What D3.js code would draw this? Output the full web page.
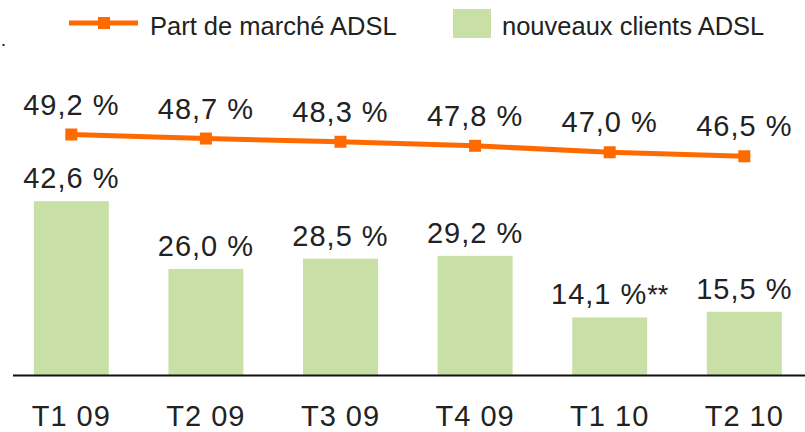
<!DOCTYPE html>
<html>
<head>
<meta charset="utf-8">
<script src="https://cdn.jsdelivr.net/npm/d3@7"></script>
<style>
  body { margin: 0; background: #fff; }
  text { font-family: "Liberation Sans", Arial, sans-serif; fill: #222; }
</style>
</head>
<body>
<div id="chart"></div>
<script>
// data
var categories = ["T1 09", "T2 09", "T3 09", "T4 09", "T1 10", "T2 10"];
var marketShare = [49.2, 48.7, 48.3, 47.8, 47.0, 46.5];   // Part de marché ADSL
var newClients = [42.6, 26.0, 28.5, 29.2, 14.1, 15.5];    // nouveaux clients ADSL
var clientNotes = ["", "", "", "", "**", ""];
var legendLabels = ["Part de marché ADSL", "nouveaux clients ADSL"];

var w = 805, h = 432;
var orange = "#ff6a00", green = "#c8e0a5";

var fmt = v => v.toFixed(1).replace(".", ",") + " %";

var svg = d3.select("#chart")
    .append("svg")
    .attr("width", w)
    .attr("height", h);

// scales
var x = d3.scaleBand()
    .domain(categories)
    .range([4, 811.6])
    .paddingInner(0.443)
    .paddingOuter(0.2215);

var yBar = d3.scaleLinear()
    .domain([0, 45])
    .range([375, 375 - 45 * 4.08]);

var yLine = d3.scaleLinear()
    .domain([44, 50])
    .range([134.5 + 5.2 * 8.07, 134.5 - 0.8 * 8.07]);

// bars
svg.selectAll(".bar")
    .data(newClients)
    .enter()
    .append("rect")
    .attr("class", "bar")
    .attr("x", (d, i) => x(categories[i]))
    .attr("y", d => yBar(d))
    .attr("width", x.bandwidth())
    .attr("height", d => yBar(0) - yBar(d))
    .attr("fill", green);

// bar labels
var barLabels = svg.selectAll(".barlabel")
    .data(newClients)
    .enter()
    .append("text")
    .attr("class", "barlabel")
    .attr("x", (d, i) => x(categories[i]) + x.bandwidth() / 2)
    .attr("y", d => yBar(d) - 13)
    .attr("text-anchor", "middle")
    .style("font-size", "29px")
    .style("letter-spacing", "1px");
barLabels.append("tspan").text(d => fmt(d));
barLabels.append("tspan")
    .style("font-size", "27px")
    .style("letter-spacing", "0px")
    .text((d, i) => clientNotes[i]);

// x axis
var xAxis = svg.append("g")
    .attr("transform", "translate(0,375.5)")
    .call(d3.axisBottom(x).tickSize(0).tickPadding(30));
xAxis.select(".domain").remove();
xAxis.selectAll("text")
    .style("font-size", "29px")
    .style("letter-spacing", "1px")
    .attr("fill", "#222")
    .attr("font-family", null);

svg.append("line")
    .attr("x1", 13).attr("x2", 805)
    .attr("y1", 375.5).attr("y2", 375.5)
    .attr("stroke", "#111")
    .attr("stroke-width", 2);

// market share line
var line = d3.line()
    .x((d, i) => x(categories[i]) + x.bandwidth() / 2)
    .y(d => yLine(d));

svg.append("path")
    .datum(marketShare)
    .attr("fill", "none")
    .attr("stroke", orange)
    .attr("stroke-width", 5)
    .attr("d", line);

svg.selectAll(".marker")
    .data(marketShare)
    .enter()
    .append("rect")
    .attr("class", "marker")
    .attr("x", (d, i) => x(categories[i]) + x.bandwidth() / 2 - 6)
    .attr("y", d => yLine(d) - 6)
    .attr("width", 12)
    .attr("height", 12)
    .attr("fill", orange);

svg.selectAll(".linelabel")
    .data(marketShare)
    .enter()
    .append("text")
    .attr("class", "linelabel")
    .attr("x", (d, i) => x(categories[i]) + x.bandwidth() / 2)
    .attr("y", d => yLine(d) - 20)
    .attr("text-anchor", "middle")
    .style("font-size", "29px")
    .style("letter-spacing", "1px")
    .text(d => fmt(d));

// legend
var legend = svg.append("g");
legend.append("line")
    .attr("x1", 69).attr("x2", 138)
    .attr("y1", 23).attr("y2", 23)
    .attr("stroke", orange)
    .attr("stroke-width", 5);
legend.append("rect")
    .attr("x", 98).attr("y", 17)
    .attr("width", 12).attr("height", 12)
    .attr("fill", orange);
legend.append("text")
    .attr("x", 150).attr("y", 35)
    .style("font-size", "25.5px")
    .text(legendLabels[0]);
legend.append("rect")
    .attr("x", 453).attr("y", 9)
    .attr("width", 38).attr("height", 29)
    .attr("fill", green);
legend.append("text")
    .attr("x", 502).attr("y", 35)
    .style("font-size", "25.5px")
    .text(legendLabels[1]);

// stray dot at the left edge
svg.append("rect")
    .attr("x", 2.5).attr("y", 44)
    .attr("width", 2).attr("height", 2)
    .attr("fill", "#222");
</script>
</body>
</html>
